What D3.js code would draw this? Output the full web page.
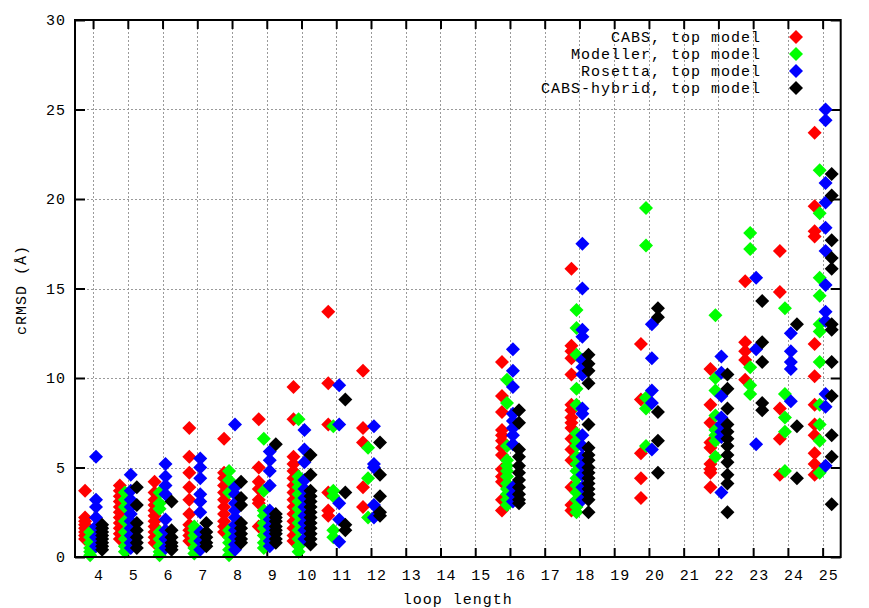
<!DOCTYPE html>
<html><head><meta charset="utf-8">
<script src="https://cdn.jsdelivr.net/npm/d3@7"></script>
<style>
html,body{margin:0;padding:0;background:#fff;}
text{font-family:"Liberation Mono","DejaVu Sans Mono",monospace;}
</style></head>
<body><svg id="c" width="869" height="608"></svg>
<script>
const loopLengths = [4,5,6,7,8,9,10,11,12,13,14,15,16,17,18,19,20,21,22,23,24,25];
const yTicks = [0,5,10,15,20,25,30];
const seriesNames = ["CABS, top model","Modeller, top model","Rosetta, top model","CABS-hybrid, top model"];
const seriesColors = ["#ff0000","#00ff00","#0000ff","#000000"];

const cabs = [
 [4,[3.7,2.2,2.0,1.8,1.6,1.4,1.2,1.0]],
 [5,[4.0,3.7,3.4,3.1,2.8,2.5,2.2,1.9,1.6,1.3,1.0]],
 [6,[4.2,3.6,3.2,2.9,2.6,2.3,2.0,1.7,1.4,1.1,0.8]],
 [7,[7.2,5.6,4.7,3.9,3.2,2.4,1.8,1.5,1.2,0.9]],
 [8,[6.6,4.7,4.4,4.0,3.6,3.2,2.8,2.4,2.0,1.7,1.4]],
 [9,[7.7,5.0,4.2,3.8,3.2,3.0,1.7]],
 [10,[9.5,7.7,5.6,5.2,4.8,4.4,4.0,3.6,3.2,2.8,2.4,2.0,1.6,1.2,0.9]],
 [11,[13.7,9.7,7.4,3.6,2.6,2.3]],
 [12,[10.4,7.2,6.4,3.9,2.8]],
 [16,[10.9,9.0,8.1,7.1,6.8,6.5,6.1,5.7,4.9,4.5,4.2,3.2,2.6]],
 [18,[16.1,11.8,11.5,11.1,10.2,8.5,8.2,7.8,7.5,7.2,6.6,6.0,5.4,3.9,2.9,2.6]],
 [20,[11.9,8.8,5.8,4.4,3.3]],
 [22,[10.5,8.5,7.5,6.4,6.1,5.2,4.9,4.7,3.9]],
 [23,[15.4,12.0,11.5,11.0,9.9]],
 [24,[17.1,14.8,8.3,6.6,4.6]],
 [25,[23.7,19.6,18.2,17.9,11.9,10.1,8.5,7.4,6.8,5.8,5.2,4.6]]
];
const modeller = [
 [4,[1.4,1.1,0.8,0.5,0.3,0.1]],
 [5,[3.6,3.2,2.8,2.0,1.4,1.0,0.6,0.3]],
 [6,[3.6,3.0,2.7,1.4,1.0,0.6,0.3,0.1]],
 [7,[1.7,1.5,1.2,0.9,0.5,0.2]],
 [8,[4.8,4.3,3.6,1.5,1.1,0.8,0.4,0.1]],
 [9,[6.6,3.7,2.6,2.3,1.9,1.6,1.2,0.8,0.5]],
 [10,[7.7,4.5,4.2,3.9,3.5,3.1,2.7,2.3,1.9,1.5,1.0,0.6,0.3]],
 [11,[7.3,3.7,3.4,1.5,1.1]],
 [12,[6.1,4.4,2.2]],
 [16,[9.9,8.6,6.2,5.4,5.1,4.8,4.5,4.1,3.8,3.5,3.2,2.9]],
 [18,[13.8,12.8,11.3,9.4,8.5,6.9,6.5,6.2,5.6,5.2,4.8,4.4,4.0,3.6,3.2,2.8,2.5]],
 [20,[19.5,17.4,8.9,8.3,6.2]],
 [22,[13.5,10.0,9.3,7.9,7.1,6.8,6.5,5.6]],
 [23,[18.1,17.2,10.6,9.6,9.1]],
 [24,[13.9,9.1,7.8,7.0,4.8]],
 [25,[21.6,19.2,15.6,14.6,13.0,12.6,10.9,8.5,7.4,6.5,4.7]]
];
const rosetta = [
 [4,[5.6,3.2,2.8,2.2,1.7,1.1,0.6]],
 [5,[4.6,3.7,3.2,2.8,2.4,2.0,1.6,1.2,0.8,0.5]],
 [6,[5.2,4.5,4.0,3.5,2.1,1.5,1.0,0.5]],
 [7,[5.5,5.0,4.4,3.5,3.1,2.5,1.4,0.9,0.4]],
 [8,[7.4,3.9,3.5,3.0,2.6,2.2,1.8,1.5,1.1,0.7,0.4]],
 [9,[5.9,5.4,4.8,4.0,2.6,2.1,1.7,1.3,0.9,0.6]],
 [10,[7.1,6.0,5.3,4.3,3.8,3.3,2.8,2.3,1.9,1.5,1.0]],
 [11,[9.6,7.4,3.0,2.1,0.85]],
 [12,[7.3,5.2,5.0,2.9,2.2]],
 [16,[11.6,10.4,9.5,8.0,7.6,7.2,6.8,6.3,3.9,3.5,3.1]],
 [18,[17.5,15.0,12.7,12.3,11.0,10.6,10.2,8.3,8.0,6.8,6.2,5.6,5.1,4.6,3.9,3.2]],
 [20,[13.0,11.1,9.3,8.6,6.0]],
 [22,[11.2,10.3,9.0,7.8,7.4,7.0,6.7,3.6]],
 [23,[15.6,11.6,6.3]],
 [24,[12.5,11.5,10.9,10.5,8.7]],
 [25,[25.0,24.4,20.9,19.8,18.4,17.1,15.2,13.7,13.2,9.1,8.4,5.1]]
];
const hybrid = [
 [4,[1.8,1.6,1.4,1.2,1.0,0.8,0.6,0.4]],
 [5,[3.9,2.9,1.9,1.5,1.1,0.8,0.5]],
 [6,[3.1,1.5,1.1,0.8,0.6,0.4]],
 [7,[1.9,1.4,1.1,0.8,0.6]],
 [8,[4.2,3.3,2.9,1.9,1.6,1.3,1.0,0.8]],
 [9,[6.3,2.4,2.2,2.0,1.7,1.5,1.3,1.0,0.8]],
 [10,[5.7,4.6,3.7,3.4,3.1,2.8,2.5,2.2,1.9,1.6,1.3,1.0,0.7]],
 [11,[8.8,3.6,1.8,1.5]],
 [12,[6.4,4.6,3.4,2.5,2.3]],
 [16,[8.2,7.5,6.0,5.6,5.1,4.7,4.3,3.9,3.5,3.2,3.0]],
 [18,[11.3,10.8,10.4,9.7,7.4,6.1,5.7,5.4,5.0,4.7,4.4,4.1,3.8,3.5,3.2,2.5]],
 [20,[13.9,13.4,8.1,6.5,4.7]],
 [22,[10.2,9.4,8.3,7.4,7.0,6.6,6.2,5.7,5.3,4.6,4.1,2.5]],
 [23,[14.3,12.0,10.9,8.6,8.2]],
 [24,[13.0,7.3,4.4]],
 [25,[21.4,20.2,17.7,16.7,16.1,13.0,12.7,10.9,9.0,6.8,5.6,2.95]]
];
const allSeries = [cabs, modeller, rosetta, hybrid];

const W = 869, H = 608;
const L = 75, R = 840.7, T = 20, B = 557;
const svg = d3.select("#c");
const x = d3.scaleLinear().domain([3.48, 25.52]).range([L, R]);
const y = d3.scaleLinear().domain([0, 30]).range([B, T]);
const offsets = [-0.23, -0.085, 0.085, 0.26];

// grid
const grid = svg.append("g").attr("stroke", "#9a9a9a").attr("stroke-width", 1).attr("stroke-dasharray", "2,2");
grid.selectAll("line.vx").data(loopLengths).join("line")
  .attr("x1", d => Math.round(x(d)) + 0.5).attr("x2", d => Math.round(x(d)) + 0.5)
  .attr("y1", T).attr("y2", B);
grid.selectAll("line.hy").data(yTicks.filter(v => v > 0 && v < 30)).join("line")
  .attr("y1", d => Math.round(y(d)) + 0.5).attr("y2", d => Math.round(y(d)) + 0.5)
  .attr("x1", L).attr("x2", R);

// axes
const fontSize = "15px";
const ls = "1px";
const ax = svg.append("g").attr("transform", `translate(0,${B})`)
  .call(d3.axisBottom(x).tickValues(loopLengths).tickFormat(d3.format("d")).tickSize(-9).tickPadding(12));
ax.selectAll("text").attr("x", 5.5).attr("font-size", fontSize).attr("letter-spacing", ls).attr("fill", "#000");
svg.append("g").attr("transform", `translate(0,${T})`)
  .call(d3.axisTop(x).tickValues(loopLengths).tickFormat("").tickSize(-9));
const ay = svg.append("g").attr("transform", `translate(${L},0)`)
  .call(d3.axisLeft(y).tickValues(yTicks).tickFormat(d3.format("d")).tickSize(-10).tickPadding(9));
ay.selectAll("text").attr("font-size", fontSize).attr("letter-spacing", ls).attr("fill", "#000");
svg.append("g").attr("transform", `translate(${R},0)`)
  .call(d3.axisRight(y).tickValues(yTicks).tickFormat("").tickSize(-10));
svg.selectAll(".domain").remove();
svg.selectAll(".tick line").attr("stroke", "#000").attr("stroke-width", 2);

// points
const sym = d3.symbol(d3.symbolSquare, 98)();
allSeries.forEach((ser, si) => {
  const pts = [];
  ser.forEach(([len, vals]) => vals.forEach(v => pts.push([len, v])));
  svg.append("g").selectAll("path").data(pts).join("path")
    .attr("d", sym)
    .attr("fill", seriesColors[si])
    .attr("transform", d => `translate(${x(d[0] + offsets[si])},${y(d[1])}) rotate(45)`);
});

// border
svg.append("rect").attr("x", L).attr("y", T).attr("width", R - L).attr("height", B - T)
  .attr("fill", "none").attr("stroke", "#000").attr("stroke-width", 2);

// legend
const lg = svg.append("g");
seriesNames.forEach((n, i) => {
  const yy = 37 + i * 17;
  lg.append("text").attr("x", 761).attr("y", yy).attr("dy", "0.35em")
    .attr("text-anchor", "end").attr("font-size", fontSize).attr("letter-spacing", ls).text(n);
  lg.append("path").attr("d", sym).attr("fill", seriesColors[i])
    .attr("transform", `translate(796,${yy}) rotate(45)`);
});

// axis labels
svg.append("text").attr("x", (L + R) / 2).attr("y", 604).attr("text-anchor", "middle")
  .attr("font-size", fontSize).attr("letter-spacing", ls).text("loop length");
svg.append("text").attr("transform", "translate(26,290) rotate(-90)").attr("text-anchor", "middle")
  .attr("font-size", fontSize).attr("letter-spacing", ls).text("cRMSD (Å)");
</script></body></html>
